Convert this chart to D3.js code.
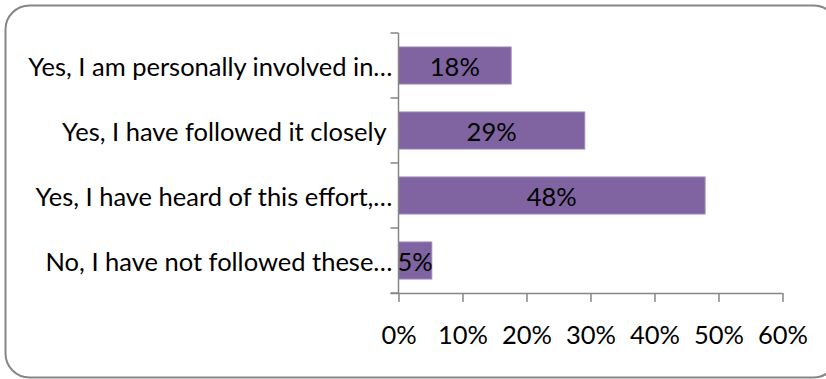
<!DOCTYPE html>
<html>
<head>
<meta charset="utf-8">
<script src="https://cdn.jsdelivr.net/npm/d3@7"></script>
<style>
  html, body { margin: 0; padding: 0; background: #fff; }
  svg { display: block; }
  text { font-family: Lato, "Open Sans", sans-serif; fill: #000; }
</style>
</head>
<body>
<svg id="chart" width="826" height="379"></svg>
<script>
// Survey answers, top to bottom
const categories = [
  "Yes, I am personally involved in\u2026",
  "Yes, I have followed it closely ",
  "Yes, I have heard of this effort,\u2026",
  "No, I have not followed these\u2026"
];
const shares = [0.176, 0.291, 0.479, 0.052];
const xTicks = [0, 0.1, 0.2, 0.3, 0.4, 0.5, 0.6];

const svg = d3.select("#chart");

// Rounded frame of the chart area (right side runs past the page edge)
svg.append("rect")
  .attr("x", 5.5).attr("y", 5.5)
  .attr("width", 832).attr("height", 372)
  .attr("rx", 24).attr("ry", 24)
  .attr("fill", "#fff")
  .attr("stroke", "#868686")
  .attr("stroke-width", 2);

const plot = { left: 398.5, right: 782.5, top: 33, bottom: 293 };

const x = d3.scaleLinear().domain([0, 0.6]).range([plot.left, plot.right]);
const y = d3.scaleBand().domain(categories).range([plot.top, plot.bottom])
  .paddingInner(0.43).paddingOuter(0.215);

const axisColor = "#868686";
const fontSize = 25.5;

// Bars
svg.append("g").selectAll("rect")
  .data(categories)
  .join("rect")
  .attr("x", x(0))
  .attr("y", d => y(d))
  .attr("width", (d, i) => x(shares[i]) - x(0))
  .attr("height", y.bandwidth())
  .attr("fill", "#8064A2")
  .attr("stroke", "#9c86b8")
  .attr("stroke-width", 1);

// Value labels centred in each bar
const pct = d3.format(".0%");
svg.append("g").selectAll("text")
  .data(categories)
  .join("text")
  .attr("x", (d, i) => (x(0) + x(shares[i])) / 2)
  .attr("y", d => y(d) + y.bandwidth() / 2)
  .attr("text-anchor", "middle")
  .attr("dominant-baseline", "central")
  .style("font-size", fontSize + "px")
  .text((d, i) => pct(shares[i]));

// Category axis: line plus ticks on band boundaries
const yAxis = svg.append("g");
yAxis.append("line")
  .attr("x1", plot.left).attr("x2", plot.left)
  .attr("y1", plot.top).attr("y2", plot.bottom)
  .attr("stroke", axisColor).attr("stroke-width", 1.5);
const bounds = d3.range(categories.length + 1)
  .map(i => plot.top + i * (plot.bottom - plot.top) / categories.length);
yAxis.selectAll("line.tick")
  .data(bounds)
  .join("line")
  .attr("class", "tick")
  .attr("x1", plot.left - 8).attr("x2", plot.left)
  .attr("y1", d => d).attr("y2", d => d)
  .attr("stroke", axisColor).attr("stroke-width", 1.5);
yAxis.selectAll("text")
  .data(categories)
  .join("text")
  .attr("x", plot.left - 6)
  .attr("y", d => y(d) + y.bandwidth() / 2)
  .attr("text-anchor", "end")
  .attr("dominant-baseline", "central")
  .style("font-size", fontSize + "px")
  .style("white-space", "pre")
  .text(d => d);

// Value axis
const xAxis = d3.axisBottom(x)
  .tickValues(xTicks)
  .tickFormat(d3.format(".0%"))
  .tickSize(9)
  .tickSizeOuter(0);
const gx = svg.append("g")
  .attr("transform", `translate(0,${plot.bottom})`)
  .call(xAxis);
gx.select(".domain")
  .attr("d", `M${plot.left - 8},0.5H${plot.right}`)
  .attr("stroke", axisColor).attr("stroke-width", 1.5);
gx.selectAll(".tick line").attr("stroke", axisColor).attr("stroke-width", 1.5);
gx.selectAll(".tick text")
  .attr("y", 51)
  .attr("dy", 0)
  .style("font-size", fontSize + "px")
  .style("font-family", "Lato, 'Open Sans', sans-serif")
  .attr("fill", "#000");
</script>
</body>
</html>
